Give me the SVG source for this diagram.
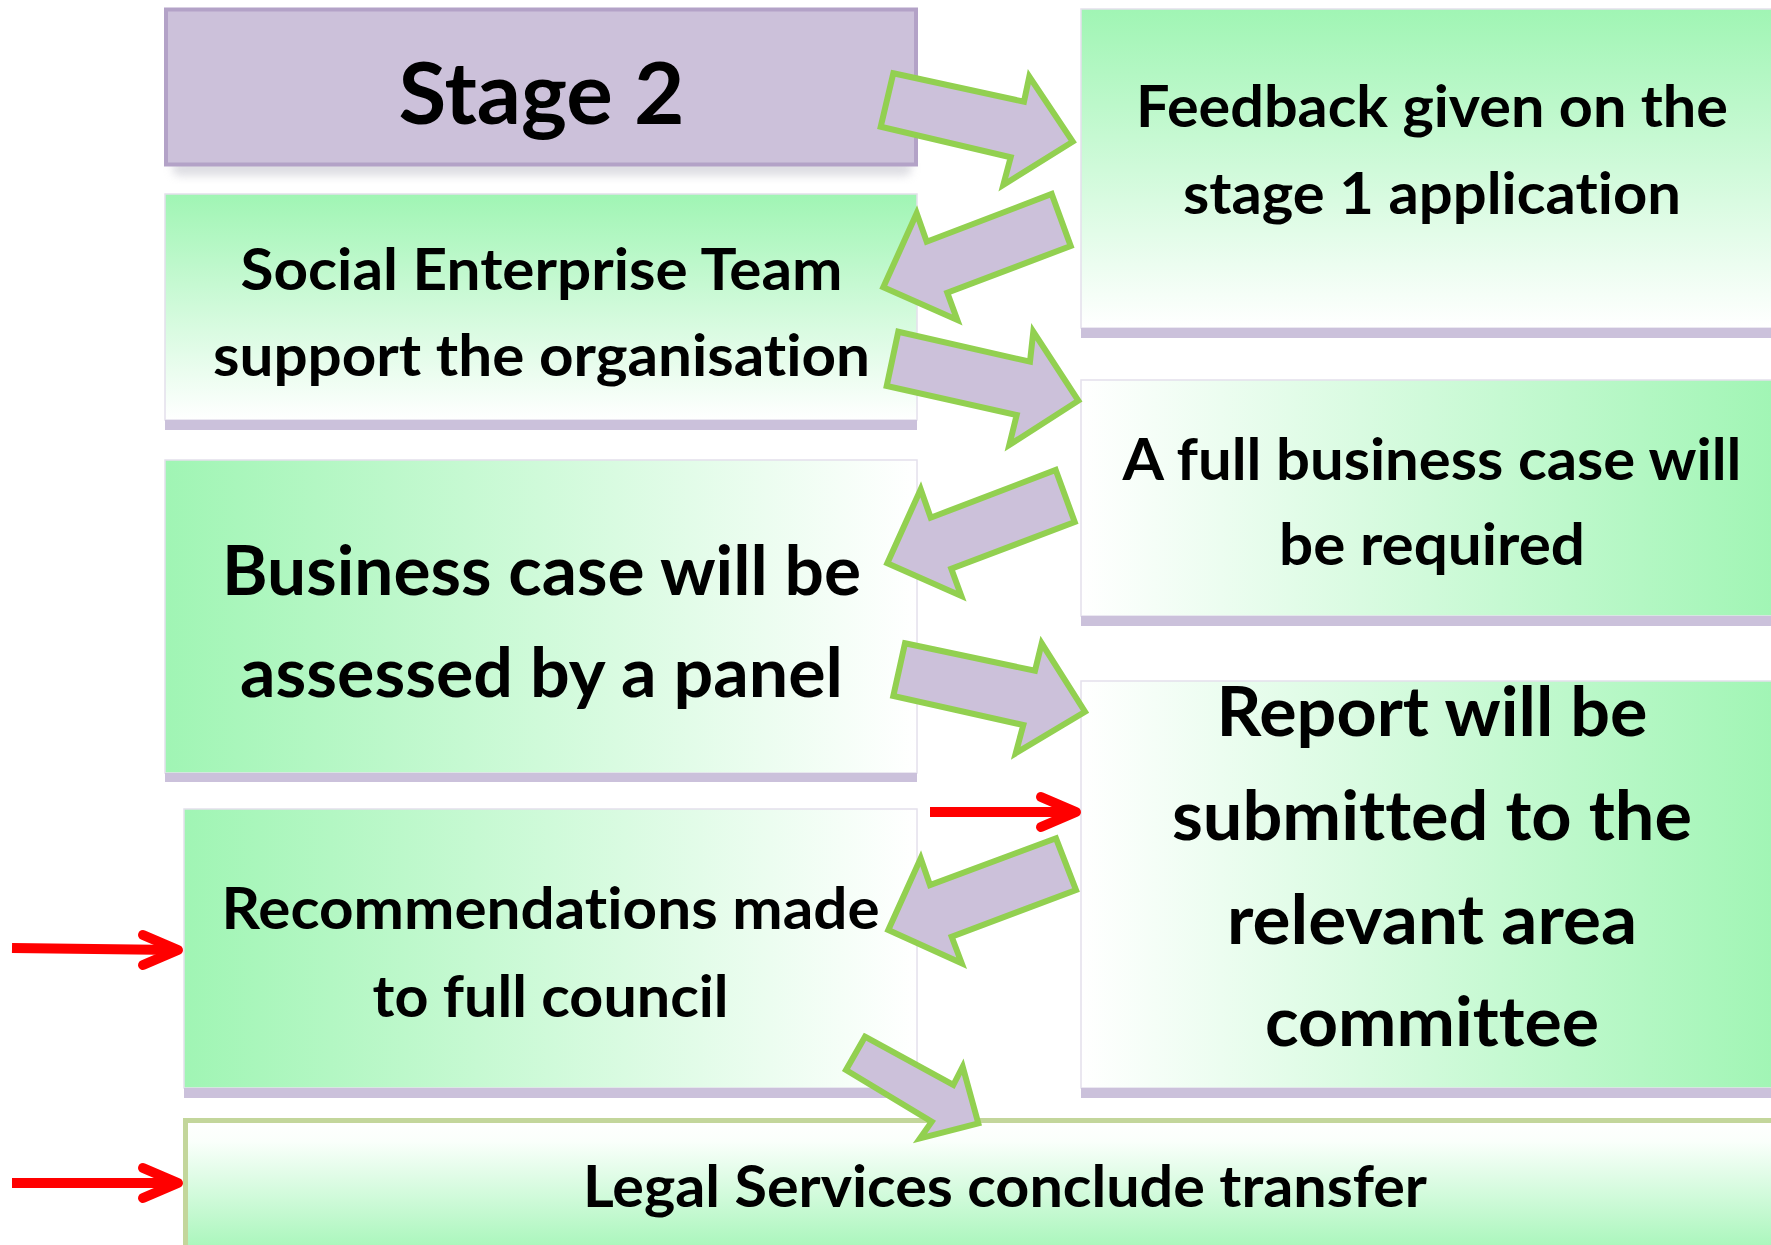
<svg xmlns="http://www.w3.org/2000/svg" width="1771" height="1245" viewBox="0 0 1771 1245">
<defs>
<linearGradient id="gV" x1="0" y1="0" x2="0" y2="1">
<stop offset="0" stop-color="#A0F5B4"/><stop offset="1" stop-color="#FFFFFF"/>
</linearGradient>
<linearGradient id="gH" x1="0" y1="0" x2="1" y2="0">
<stop offset="0" stop-color="#A0F5B4"/><stop offset="1" stop-color="#FFFFFF"/>
</linearGradient>
<linearGradient id="gHR" x1="0" y1="0" x2="1" y2="0">
<stop offset="0" stop-color="#FFFFFF"/><stop offset="1" stop-color="#A0F5B4"/>
</linearGradient>
<linearGradient id="gVU" x1="0" y1="0" x2="0" y2="1">
<stop offset="0" stop-color="#FFFFFF"/><stop offset="0.15" stop-color="#FAFFFB"/><stop offset="1" stop-color="#A0F5B4"/>
</linearGradient>
<filter id="sh" x="-5%" y="-50%" width="110%" height="200%">
<feGaussianBlur stdDeviation="4"/>
</filter>
<style>
.card{stroke:#E4E0EC;stroke-width:1.5}
.bar{fill:#CBC1DB}
.t{font-family:Lato,"Open Sans","Liberation Sans",sans-serif;font-weight:bold;fill:#000;text-anchor:middle;font-variant-ligatures:none;font-feature-settings:"liga" 0,"clig" 0,"dlig" 0}
.s58{font-size:58px}
.s68{font-size:68px}
.blk{fill:#CCC1DA;stroke:#92D050;stroke-width:6;stroke-linejoin:miter}
.red{fill:none;stroke:#FF0000;stroke-width:10}
.redh{fill:none;stroke:#FF0000;stroke-width:10;stroke-linecap:round;stroke-linejoin:round}
</style>
</defs>
<rect width="1771" height="1245" fill="#FFFFFF"/>

<g id="stage2">
<rect x="172" y="160" width="740" height="16" rx="8" fill="#C8C8D0" opacity="0.6" filter="url(#sh)"/>
<rect x="166" y="9.5" width="750" height="155" fill="#CCC1DA" stroke="#B3A2C7" stroke-width="4"/>
<text class="t" x="541.5" y="124" font-size="87" textLength="286" lengthAdjust="spacingAndGlyphs">Stage 2</text>
</g>

<g id="social">
<rect class="card" x="165" y="194" width="752" height="226" fill="url(#gV)"/>
<rect class="bar" x="165" y="420" width="752" height="10"/>
<text class="t s58" x="541.5" y="290" textLength="602" lengthAdjust="spacingAndGlyphs">Social Enterprise Team</text>
<text class="t s58" x="541.5" y="376" textLength="657" lengthAdjust="spacingAndGlyphs">support the organisation</text>
</g>

<g id="business">
<rect class="card" x="165" y="460" width="752" height="313" fill="url(#gH)"/>
<rect class="bar" x="165" y="773" width="752" height="9"/>
<text class="t s68" x="541.5" y="595" textLength="639" lengthAdjust="spacingAndGlyphs">Business case will be</text>
<text class="t s68" x="541.5" y="697" textLength="603" lengthAdjust="spacingAndGlyphs">assessed by a panel</text>
</g>

<g id="recommendations">
<rect class="card" x="184" y="809" width="733" height="279" fill="url(#gH)"/>
<rect class="bar" x="184" y="1088" width="733" height="10"/>
<text class="t s58" x="550.6" y="929" textLength="658" lengthAdjust="spacingAndGlyphs">Recommendations made</text>
<text class="t s58" x="550.6" y="1017" textLength="356" lengthAdjust="spacingAndGlyphs">to full council</text>
</g>

<g id="feedback">
<rect class="card" x="1081" y="9" width="700" height="319" fill="url(#gV)"/>
<rect class="bar" x="1081" y="328" width="700" height="10"/>
<text class="t s58" x="1432" y="127" textLength="592" lengthAdjust="spacingAndGlyphs">Feedback given on the</text>
<text class="t s58" x="1432" y="214" textLength="498" lengthAdjust="spacingAndGlyphs">stage 1 application</text>
</g>

<g id="fullcase">
<rect class="card" x="1081" y="380" width="700" height="236" fill="url(#gHR)"/>
<rect class="bar" x="1081" y="616" width="700" height="10"/>
<text class="t s58" x="1432" y="480" textLength="619" lengthAdjust="spacingAndGlyphs">A full business case will</text>
<text class="t s58" x="1432" y="565" textLength="306" lengthAdjust="spacingAndGlyphs">be required</text>
</g>

<g id="report">
<rect class="card" x="1081" y="681" width="700" height="407" fill="url(#gHR)"/>
<rect class="bar" x="1081" y="1088" width="700" height="10"/>
<text class="t s68" x="1432" y="736" textLength="431" lengthAdjust="spacingAndGlyphs">Report will be</text>
<text class="t s68" x="1432" y="840" textLength="520" lengthAdjust="spacingAndGlyphs">submitted to the</text>
<text class="t s68" x="1432" y="944" textLength="410" lengthAdjust="spacingAndGlyphs">relevant area</text>
<text class="t s68" x="1432" y="1046" textLength="334" lengthAdjust="spacingAndGlyphs">committee</text>
</g>

<g id="legal">
<rect x="185.5" y="1120.5" width="1600" height="140" fill="url(#gVU)" stroke="#C3D69B" stroke-width="5"/>
<text class="t s58" x="1005" y="1207" textLength="844" lengthAdjust="spacingAndGlyphs">Legal Services conclude transfer</text>
</g>

<g id="connectors">
<polygon class="blk" points="893.3,73.3 1024,101.7 1029.3,76.7 1072.7,141.7 1003.3,185 1010.7,157.3 880.7,126.7"/>
<polygon class="blk" points="1051.7,194 1070.7,246 947.3,292.7 957.3,320 883.3,287.3 916.7,213.3 926.7,241.7"/>
<polygon class="blk" points="898.3,331.7 1030,361.7 1033.3,331.7 1078.3,400.7 1009.3,445 1016.7,415 886.7,386"/>
<polygon class="blk" points="1055.7,470 1074.7,522 951.3,568.7 961.3,596 887.3,563.3 920.7,489.3 930.7,517.7"/>
<polygon class="blk" points="905,643.3 1035,670.7 1041.7,643.3 1085,711.7 1015.7,753.3 1023.3,725 893.3,696"/>
<polygon class="blk" points="1056,838.3 1076,890 951.7,936.7 961.7,963.3 888.3,930 920.7,858.3 930,885"/>
<polygon class="blk" points="865,1036.7 953.3,1085 962.7,1066.7 978.3,1123.3 920,1138.3 931.7,1121.7 846,1070"/>

<line class="red" x1="12" y1="948" x2="176" y2="950"/>
<polyline class="redh" points="143,935 178,950 143,965"/>
<line class="red" x1="12" y1="1183" x2="176" y2="1183"/>
<polyline class="redh" points="143,1168 178,1183 143,1198"/>
<line class="red" x1="930" y1="812" x2="1074" y2="812"/>
<polyline class="redh" points="1041,797 1076,812 1041,827"/>
</g>
</svg>
